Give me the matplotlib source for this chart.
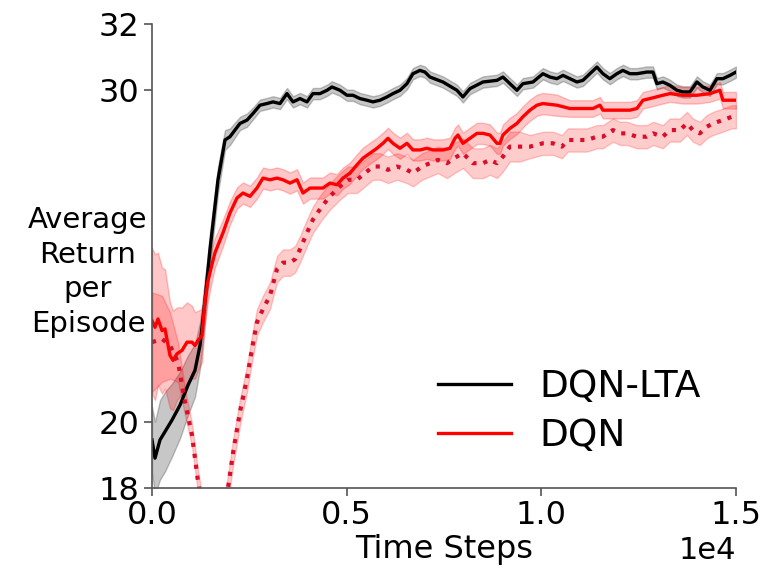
import numpy as np
import matplotlib
matplotlib.use("Agg")
import matplotlib.pyplot as plt
from matplotlib.lines import Line2D

# DQN-LTA (black, solid)
black_x = [
    0, 77, 205, 334, 514, 719, 924, 1104, 1233, 1361,
    1490, 1695, 1875, 2003, 2260, 2440, 2594, 2773, 2953, 3107,
    3287, 3467, 3621, 3801, 3980, 4134, 4314, 4494, 4622, 4828,
    5008, 5162, 5341, 5521, 5675, 5855, 6035, 6189, 6369, 6548,
    6702, 6882, 7010, 7139, 7473, 7832, 7986, 8166, 8500, 8860,
    9014, 9193, 9373, 9527, 9784, 10040, 10220, 10400, 10555, 10734,
    10914, 11068, 11248, 11428, 11582, 11760, 11940, 12095, 12275, 12455,
    12710, 12866, 12968, 13122, 13302, 13482, 13636, 13816, 13996, 14150,
    14330, 14510, 14664, 14844, 15000]
black_y = [
    19.45, 18.9, 19.45, 19.7, 20.05, 20.5, 21.1, 21.55, 22.3, 23.65,
    25.2, 27.3, 28.5, 28.6, 29.0, 29.1, 29.3, 29.55, 29.6, 29.65,
    29.6, 29.9, 29.65, 29.75, 29.65, 29.9, 29.9, 30.0, 30.1, 30.0,
    29.85, 29.85, 29.75, 29.7, 29.65, 29.7, 29.8, 29.9, 30.0, 30.2,
    30.5, 30.6, 30.55, 30.4, 30.25, 30.0, 29.8, 30.05, 30.25, 30.3,
    30.4, 30.2, 30.0, 30.2, 30.25, 30.5, 30.4, 30.35, 30.45, 30.35,
    30.25, 30.3, 30.5, 30.7, 30.5, 30.35, 30.5, 30.6, 30.5, 30.5,
    30.55, 30.55, 30.2, 30.25, 30.15, 30.0, 29.95, 29.95, 30.25, 30.1,
    30.0, 30.35, 30.35, 30.45, 30.55]
black_sd = ([1.0, 1.1, 1.2, 1.2, 1.1, 1.0, 0.9, 0.8, 0.7, 0.6]
            + [0.5, 0.4, 0.3, 0.25, 0.2, 0.2, 0.18, 0.17, 0.17, 0.17]
            + [0.17] * 65)

# DQN (red, solid)
red_x = [
    0, 77, 154, 257, 334, 462, 540, 642, 770, 899,
    1027, 1104, 1181, 1284, 1361, 1438, 1541, 1618, 1823, 2003,
    2183, 2337, 2517, 2696, 2850, 3030, 3210, 3364, 3544, 3724,
    3878, 4057, 4237, 4391, 4571, 4751, 4905, 5085, 5264, 5418,
    5598, 5778, 5932, 6060, 6189, 6369, 6548, 6702, 6882, 7062,
    7216, 7473, 7653, 7781, 7858, 7986, 8166, 8346, 8500, 8680,
    8860, 8937, 9014, 9193, 9373, 9527, 9707, 9887, 10040, 10400,
    10734, 11068, 11325, 11505, 11582, 11940, 12275, 12455, 12610, 12788,
    13122, 13302, 13636, 13996, 14330, 14587, 14664, 15000]
red_y = [
    23.05, 22.85, 23.1, 22.75, 22.8, 22.0, 21.85, 22.05, 22.15, 22.4,
    22.4, 22.3, 22.45, 22.6, 23.65, 24.25, 24.75, 25.1, 25.7, 26.3,
    26.75, 26.9, 26.8, 27.05, 27.35, 27.3, 27.35, 27.3, 27.2, 27.3,
    26.9, 27.05, 27.05, 27.05, 27.2, 27.15, 27.35, 27.5, 27.75, 27.95,
    28.1, 28.25, 28.4, 28.55, 28.4, 28.25, 28.4, 28.2, 28.2, 28.25,
    28.2, 28.2, 28.25, 28.55, 28.65, 28.4, 28.55, 28.7, 28.7, 28.65,
    28.4, 28.4, 28.65, 28.85, 29.0, 29.2, 29.4, 29.55, 29.6, 29.55,
    29.45, 29.45, 29.45, 29.55, 29.4, 29.4, 29.4, 29.45, 29.7, 29.75,
    29.85, 29.9, 29.85, 29.85, 29.9, 30.0, 29.7, 29.7]
red_sd = ([2.2, 2.2, 2.0, 1.9, 1.8, 1.6, 1.5, 1.4, 1.3, 1.2]
          + [1.1, 1.0, 0.9, 0.8, 0.7, 0.6, 0.5, 0.45, 0.4, 0.35]
          + [0.32] * 50 + [0.25] * 18)

# DQN variant (red, dotted, not in legend)
dot_x = [
    0, 257, 462, 668, 847, 1027, 1181, 1400, 1600, 1800,
    1952, 2080, 2260, 2440, 2568, 2696, 2850, 3030, 3210, 3364,
    3544, 3672, 3800, 3980, 4134, 4366, 4571, 4828, 5033, 5264,
    5470, 5675, 5855, 6060, 6292, 6548, 6702, 6934, 7139, 7344,
    7576, 7832, 7986, 8243, 8500, 8680, 8860, 9014, 9193, 9450,
    9707, 10040, 10300, 10530, 10680, 10914, 11170, 11430, 11580, 11840,
    12020, 12200, 12450, 12710, 12870, 13120, 13300, 13560, 13740, 13890,
    14070, 14250, 14410, 14660, 14890, 15000]
dot_y = [
    22.4, 22.5, 22.3, 21.8, 20.6, 19.6, 18.2, 16.6, 16.1, 16.9,
    18.0, 19.05, 20.3, 21.3, 22.2, 23.0, 23.4, 23.8, 24.6, 24.8,
    24.8, 24.9, 25.2, 25.7, 26.1, 26.5, 26.8, 27.1, 27.3, 27.3,
    27.5, 27.7, 27.7, 27.6, 27.7, 27.6, 27.5, 27.7, 27.8, 27.9,
    27.8, 28.0, 28.1, 27.8, 27.8, 27.9, 27.8, 28.0, 28.3, 28.3,
    28.3, 28.4, 28.4, 28.3, 28.5, 28.5, 28.5, 28.6, 28.6, 28.8,
    28.7, 28.7, 28.6, 28.6, 28.7, 28.6, 28.8, 28.8, 29.0, 28.8,
    28.7, 28.9, 29.0, 29.1, 29.2, 29.2]
dot_sd = ([1.5, 1.3, 1.0, 0.6, 0.4, 0.35, 0.35, 0.35, 0.35, 0.35]
          + [0.4] * 30 + [0.45] * 10 + [0.35] * 26)

x_ticks = [0, 5000, 10000, 15000]
y_ticks = [18, 20, 30, 32]
legend_labels = ["DQN-LTA", "DQN"]

plt.rcParams['font.family'] = ['DejaVu Sans']

fig = plt.figure(figsize=(7.65, 5.71), dpi=100)
ax = fig.add_axes([152 / 765, 83 / 571, 584 / 765, 464 / 571])


def band(x, y, sd, color, alpha, ls, lw, lcolor):
    x, y, sd = np.array(x), np.array(y), np.array(sd)
    ax.fill_between(x, y - sd, y + sd, color=color, alpha=alpha, lw=1)
    ax.plot(x, y, ls=ls, color=lcolor, lw=lw)


band(black_x, black_y, black_sd, 'black', 0.22, '-', 2.4, 'black')
band(red_x, red_y, red_sd, 'red', 0.22, '-', 2.4, '#ff0000')
band(dot_x, dot_y, dot_sd, 'red', 0.2, ':', 3.0, '#d90f2a')

ax.set_xlim(0, 15000)
ax.set_ylim(18, 32)
ax.set_xticks(x_ticks)
ax.set_yticks(y_ticks)
ax.ticklabel_format(style='sci', axis='x', scilimits=(0, 0))
ax.spines['top'].set_visible(False)
ax.spines['right'].set_visible(False)
for s in ['left', 'bottom']:
    ax.spines[s].set_color('#555555')
    ax.spines[s].set_linewidth(1.2)
ax.tick_params(labelsize=23, length=6, width=1.2, color='#555555', pad=3)
ax.xaxis.get_offset_text().set_fontsize(22)

ax.set_xlabel("Time Steps", fontsize=23, labelpad=2)
fig.text(88 / 765, 1 - 272 / 571, "Average\nReturn\nper\nEpisode",
         fontsize=21, ha='center', va='center', linespacing=1.3)

handles = [Line2D([], [], color='black', lw=2.4), Line2D([], [], color='#ff0000', lw=2.4)]
ax.legend(handles, legend_labels, loc='center', bbox_to_anchor=(0.715, 0.165),
          frameon=False, fontsize=27, handlelength=1.95, handletextpad=0.75,
          labelspacing=0.35)

fig.savefig("out.png", dpi=100)
